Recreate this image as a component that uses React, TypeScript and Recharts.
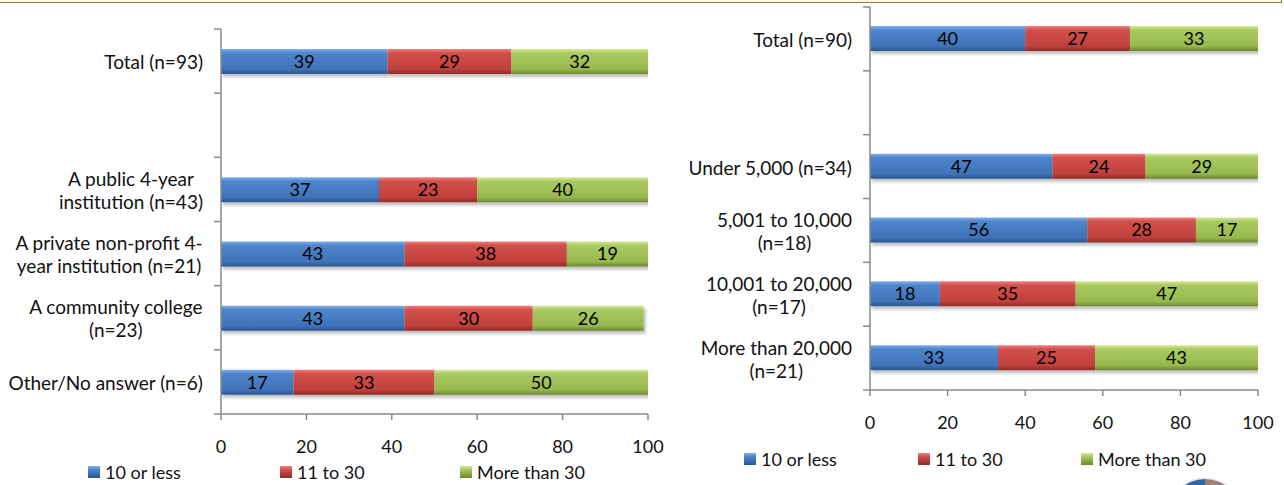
import React from "react";
import { BarChart, Bar, XAxis, YAxis, LabelList } from "recharts";

// series
const SERIES = ["10 or less", "11 to 30", "More than 30"];
const KEYS = ["low", "mid", "high"];

// left chart: by institution type
const LEFT_CATEGORIES = [
  "Total (n=93)",
  " ",
  "A public 4-year\ninstitution (n=43)",
  "A private non-profit 4-\nyear institution (n=21)",
  "A community college\n(n=23)",
  "Other/No answer (n=6)",
];
const LEFT_LOW = [39, null, 37, 43, 43, 17];
const LEFT_MID = [29, null, 23, 38, 30, 33];
const LEFT_HIGH = [32, null, 40, 19, 26, 50];

// right chart: by enrollment size
const RIGHT_CATEGORIES = [
  "Total (n=90)",
  " ",
  "Under 5,000 (n=34)",
  "5,001 to 10,000\n(n=18)",
  "10,001 to 20,000\n(n=17)",
  "More than 20,000\n(n=21)",
];
const RIGHT_LOW = [40, null, 47, 56, 18, 33];
const RIGHT_MID = [27, null, 24, 28, 35, 25];
const RIGHT_HIGH = [33, null, 29, 17, 47, 43];

const X_TICKS = [0, 20, 40, 60, 80, 100];

const FONT = "Lato";
const LABEL_SIZE = 19;
const TICK_SIZE = 18;
const VALUE_SIZE = 18;
const LEGEND_SIZE = 18;
const LINE_H = 23;
const AXIS_COLOR = "#8a8a8a";
const TEXT_COLOR = "#111";

const GRADS = [
  ["#7eb0ee", "#4f85cb", "#3f73b8", "#2b5690"],
  ["#f2807d", "#d2504c", "#c0413d", "#8c2c29"],
  ["#d3ec93", "#a9ca60", "#98b84d", "#6c8834"],
];

let canvas: HTMLCanvasElement | null = null;
function textWidth(text: string) {
  if (!canvas) canvas = document.createElement("canvas");
  const ctx = canvas.getContext("2d");
  if (!ctx) return text.length * LABEL_SIZE * 0.5;
  ctx.font = `${LABEL_SIZE}px ${FONT}`;
  return ctx.measureText(text).width;
}

function buildRows(cats: string[], low: any[], mid: any[], high: any[]) {
  return cats.map((name, i) => ({ name, low: low[i], mid: mid[i], high: high[i] }));
}

// category tick: multi-line centred block, plus boundary tick marks
function CategoryTick(props: any) {
  const { x, y, payload, index, band, count, axisX } = props;
  const lines = String(payload.value).split("\n").filter((s) => s.trim());
  const w = lines.length ? Math.max(...lines.map(textWidth)) : 0;
  const cx = x - w / 2;
  const y0 = y - ((lines.length - 1) * LINE_H) / 2;
  return (
    <g>
      <line x1={axisX - 7} x2={axisX} y1={y - band / 2} y2={y - band / 2} stroke={AXIS_COLOR} strokeWidth={1.5} />
      {index === count - 1 && (
        <line x1={axisX - 7} x2={axisX} y1={y + band / 2} y2={y + band / 2} stroke={AXIS_COLOR} strokeWidth={1.5} />
      )}
      <text
        x={cx}
        y={y0}
        textAnchor="middle"
        dominantBaseline="central"
        fill={TEXT_COLOR}
        fontFamily={FONT}
        fontSize={LABEL_SIZE}
      >
        {lines.map((l, i) => (
          <tspan key={i} x={cx} dy={i === 0 ? 0 : LINE_H}>
            {l}
          </tspan>
        ))}
      </text>
    </g>
  );
}

type PanelProps = {
  id: string;
  rows: any[];
  left: number;
  width: number;
  yAxisW: number;
  top: number;
  plotRight: number;
  plotBottom: number;
};

function Panel({ id, rows, left, width, yAxisW, top, plotRight, plotBottom }: PanelProps) {
  const height = 485;
  const xAxisH = 40;
  const band = (plotBottom - top) / rows.length;
  return (
    <div style={{ position: "absolute", left, top: 0 }}>
      <BarChart
        width={width}
        height={height}
        data={rows}
        layout="vertical"
        barSize={25}
        margin={{ top, right: width - (plotRight - left), left: 0, bottom: height - plotBottom - xAxisH }}
      >
        <defs>
          {GRADS.map((g, i) => (
            <linearGradient key={i} id={`${id}-g${i}`} x1="0" y1="0" x2="0" y2="1">
              <stop offset="0%" stopColor={g[0]} />
              <stop offset="16%" stopColor={g[1]} />
              <stop offset="80%" stopColor={g[2]} />
              <stop offset="100%" stopColor={g[3]} />
            </linearGradient>
          ))}
          <filter id={`${id}-sh`} x="-5%" y="-20%" width="110%" height="160%">
            <feDropShadow dx="2" dy="3" stdDeviation="1.8" floodColor="#000" floodOpacity="0.25" />
          </filter>
        </defs>
        <XAxis
          type="number"
          domain={[0, 100]}
          ticks={X_TICKS}
          allowDataOverflow
          height={xAxisH}
          tickSize={6}
          tickMargin={20}
          axisLine={{ stroke: AXIS_COLOR, strokeWidth: 1.5 }}
          tickLine={{ stroke: AXIS_COLOR, strokeWidth: 1.5 }}
          tick={{ fill: TEXT_COLOR, fontFamily: FONT, fontSize: TICK_SIZE }}
        />
        <YAxis
          type="category"
          dataKey="name"
          width={yAxisW}
          tickSize={0}
          tickMargin={18}
          tickLine={false}
          axisLine={{ stroke: AXIS_COLOR, strokeWidth: 1.5 }}
          interval={0}
          tick={<CategoryTick band={band} count={rows.length} axisX={yAxisW} />}
        />
        {KEYS.map((k, i) => (
          <Bar
            key={k}
            dataKey={k}
            name={SERIES[i]}
            stackId="s"
            fill={`url(#${id}-g${i})`}
            filter={`url(#${id}-sh)`}
            isAnimationActive={false}
          >
            <LabelList dataKey={k} position="center" fill="#000" fontFamily={FONT} fontSize={VALUE_SIZE} />
          </Bar>
        ))}
      </BarChart>
    </div>
  );
}

function Legend({ xs, y }: { xs: number[]; y: number }) {
  return (
    <>
      {SERIES.map((s, i) => (
        <div
          key={s}
          style={{
            position: "absolute",
            left: xs[i],
            top: y - 12,
            height: 24,
            display: "flex",
            alignItems: "center",
            fontFamily: FONT,
            fontSize: LEGEND_SIZE,
            color: TEXT_COLOR,
            whiteSpace: "nowrap",
          }}
        >
          <span
            style={{
              display: "inline-block",
              width: 12,
              height: 12,
              marginRight: 5,
              background: `linear-gradient(${GRADS[i][0]}, ${GRADS[i][1]} 30%, ${GRADS[i][3]})`,
            }}
          />
          {s}
        </div>
      ))}
    </>
  );
}

export default function App() {
  const leftRows = buildRows(LEFT_CATEGORIES, LEFT_LOW, LEFT_MID, LEFT_HIGH);
  const rightRows = buildRows(RIGHT_CATEGORIES, RIGHT_LOW, RIGHT_MID, RIGHT_HIGH);
  return (
    <div style={{ position: "absolute", left: 0, top: 0, width: 1284, height: 485, overflow: "hidden", background: "#fff" }}>
      {/* edge of the text box above */}
      <div
        style={{
          position: "absolute",
          left: 0,
          top: 0,
          width: 1281,
          height: 2,
          background: "#fbf8dc",
          borderBottom: "1px solid #8c8236",
          borderRight: "1px solid #8c8236",
        }}
      />
      <Panel id="l" rows={leftRows} left={0} width={690} yAxisW={221} top={29} plotRight={648} plotBottom={414} />
      <Panel id="r" rows={rightRows} left={690} width={594} yAxisW={180} top={7} plotRight={1258} plotBottom={390} />
      <Legend xs={[88, 280, 460]} y={472} />
      <Legend xs={[744, 918, 1081]} y={459} />
      {/* logo peeking in at the bottom */}
      <svg style={{ position: "absolute", left: 1160, top: 470 }} width={90} height={15}>
        <circle cx={45} cy={45} r={38} fill="#e8eef4" />
        <path d="M45 45 L45 9 A36 36 0 0 0 9 45 Z" fill="#2f67ac" />
        <path d="M45 45 L45 9 A36 36 0 0 1 81 45 Z" fill="#9c7f70" />
      </svg>
    </div>
  );
}
